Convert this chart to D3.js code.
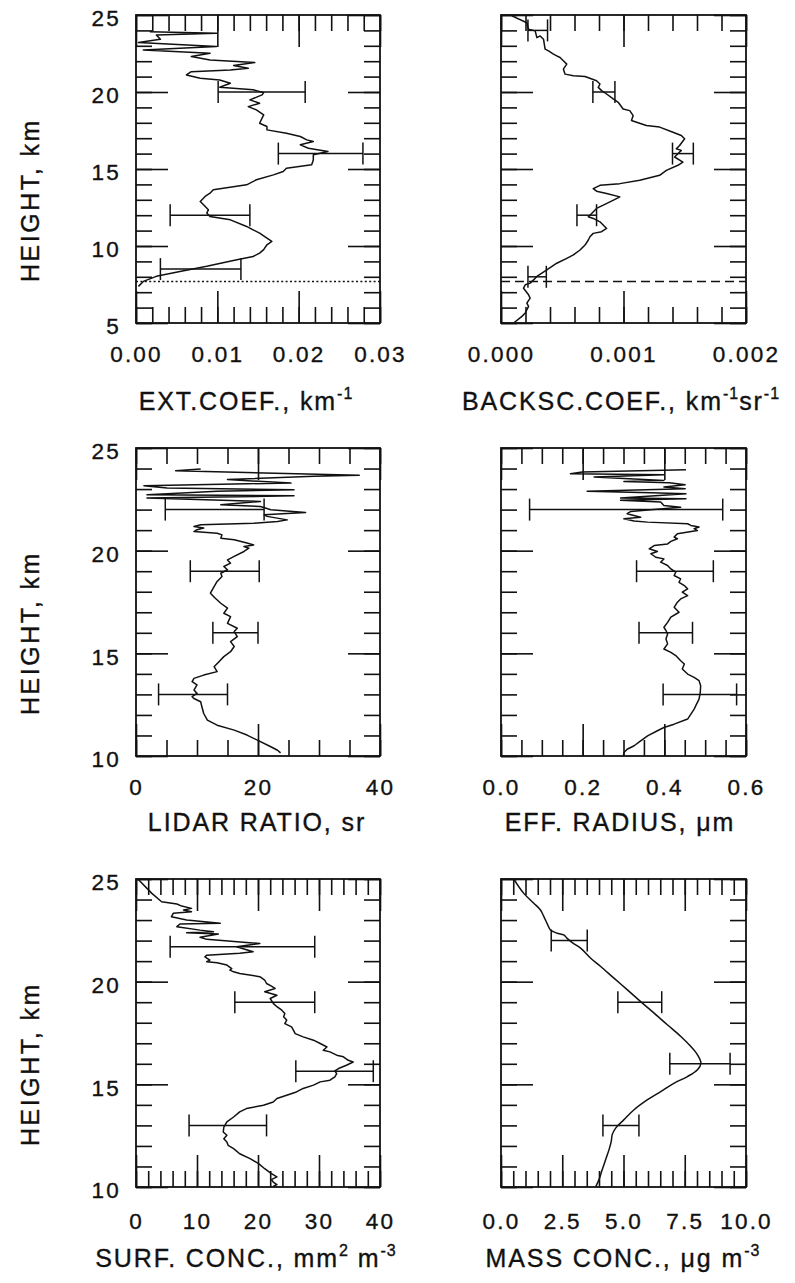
<!DOCTYPE html>
<html>
<head>
<meta charset="utf-8">
<script src="https://cdn.jsdelivr.net/npm/d3@7"></script>
<style>
  body { margin: 0; background: #fff; }
  text { font-family: "Liberation Sans", Arial, Helvetica, sans-serif; fill: #111; stroke: #111; stroke-width: 0.35px; }
</style>
</head>
<body>
<svg id="fig" width="795" height="1283"></svg>
<script>
// ---- data: [height km, value] ----
const extProfile = [
  [23.92, 0.0017], [23.81, 0.0099], [23.70, 0.0025], [23.42, 0.0030], [23.21, 0.0003],
  [22.95, 0.0099], [22.73, 0.0009], [22.51, 0.0091], [22.30, 0.0068], [22.08, 0.0091],
  [21.91, 0.0146], [21.72, 0.0120], [21.54, 0.0138], [21.43, 0.0116], [21.32, 0.0068],
  [21.11, 0.0062], [20.89, 0.0079], [20.78, 0.0103], [20.57, 0.0116], [20.31, 0.0103],
  [20.14, 0.0144], [19.96, 0.0157], [19.81, 0.0155], [19.49, 0.0140], [19.27, 0.0152],
  [19.05, 0.0138], [18.84, 0.0148], [18.51, 0.0157], [18.30, 0.0155], [17.97, 0.0152],
  [17.76, 0.0161], [17.54, 0.0161], [17.32, 0.0185], [17.11, 0.0202], [16.89, 0.0210],
  [16.78, 0.0218], [16.57, 0.0202], [16.35, 0.0212], [16.14, 0.0236], [15.92, 0.0218],
  [15.59, 0.0218], [15.27, 0.0216], [15.05, 0.0185], [14.84, 0.0181], [14.62, 0.0169],
  [14.30, 0.0148], [13.97, 0.0136], [13.65, 0.0095], [13.43, 0.0091], [13.22, 0.0085],
  [12.89, 0.0079], [12.68, 0.0083], [12.35, 0.0089], [12.14, 0.0087], [11.92, 0.0091],
  [11.70, 0.0116], [11.27, 0.0136], [11.05, 0.0144], [10.84, 0.0152], [10.51, 0.0161],
  [10.30, 0.0167], [10.08, 0.0161], [9.76, 0.0157], [9.54, 0.0152], [9.32, 0.0144],
  [9.11, 0.0124], [8.68, 0.0087], [8.35, 0.0054], [8.03, 0.0025], [7.70, 0.0009], [7.38, 0.0003]
]
const extErr = [[20, 0.0101, 0.0208], [16, 0.0175, 0.0279], [12, 0.0042, 0.0140], [8.5, 0.0030, 0.0129]]

const bscProfile = [
  [24.94, 0.000089], [24.50, 0.000211], [24.07, 0.000225], [23.97, 0.000279], [23.53, 0.000293],
  [23.64, 0.000320], [23.43, 0.000347], [22.78, 0.000360], [22.67, 0.000388], [22.46, 0.000428],
  [22.35, 0.000455], [22.24, 0.000482], [22.03, 0.000509], [21.81, 0.000537], [21.49, 0.000509],
  [21.16, 0.000523], [21.06, 0.000591], [21.01, 0.000686], [20.73, 0.000780], [20.52, 0.000808],
  [20.30, 0.000794], [20.09, 0.000821], [19.87, 0.000862], [19.55, 0.000916], [19.33, 0.000957],
  [18.90, 0.000997], [18.79, 0.001051], [18.47, 0.001079], [18.15, 0.001065], [18.00, 0.001119],
  [17.82, 0.001187], [17.72, 0.001295], [17.39, 0.001404], [17.18, 0.001472], [16.96, 0.001499],
  [16.53, 0.001458], [16.31, 0.001431], [16.21, 0.001472], [15.99, 0.001444], [15.78, 0.001417],
  [15.45, 0.001485], [15.24, 0.001444], [14.91, 0.001350], [14.59, 0.001295], [14.27, 0.001133],
  [14.05, 0.000970], [13.94, 0.000808], [13.73, 0.000753], [13.56, 0.000780], [13.41, 0.000862],
  [13.19, 0.000970], [13.08, 0.000943], [12.87, 0.000889], [12.65, 0.000835], [12.44, 0.000780],
  [12.11, 0.000740], [11.90, 0.000713], [11.79, 0.000753], [11.57, 0.000808], [11.25, 0.000848],
  [11.14, 0.000862], [10.93, 0.000821], [10.82, 0.000753], [10.60, 0.000726], [10.39, 0.000713],
  [10.06, 0.000686], [9.74, 0.000645], [9.42, 0.000591], [9.20, 0.000537], [8.88, 0.000455],
  [8.45, 0.000374], [8.02, 0.000293], [7.80, 0.000266], [7.59, 0.000238], [7.48, 0.000198],
  [7.26, 0.000184], [6.83, 0.000225], [6.62, 0.000238], [6.29, 0.000211], [6.08, 0.000225],
  [5.65, 0.000198], [5.43, 0.000171], [5.00, 0.000103]
]
const bscErr = [[24, 0.00022, 0.00038], [20, 0.00075, 0.00093], [16, 0.00140, 0.00157],
  [12, 0.00062, 0.00078], [8, 0.00022, 0.00037]]

const lidarProfile = [
  [23.98, 10.6], [23.89, 6.5], [23.67, 36.6], [23.62, 29.2], [23.46, 15.0], [23.29, 25.4],
  [23.26, 18.2], [23.16, 1.3], [23.05, 5.1], [22.97, 25.9], [22.89, 13.3], [22.72, 1.8],
  [22.67, 25.9], [22.56, 1.8], [22.40, 20.4], [22.24, 13.9], [22.15, 20.4], [21.99, 22.1],
  [21.86, 27.8], [21.75, 21.0], [21.67, 21.5], [21.50, 24.8], [21.42, 23.2], [21.34, 19.3],
  [21.26, 10.6], [21.18, 9.5], [21.10, 11.1], [21.02, 10.0], [20.93, 9.5], [20.85, 13.3],
  [20.77, 14.1], [20.61, 13.9], [20.53, 16.1], [20.37, 18.2], [20.28, 19.3], [20.20, 17.7],
  [20.12, 18.5], [19.96, 17.7], [19.72, 16.1], [19.55, 15.0], [19.39, 15.5], [19.23, 14.4],
  [19.07, 15.0], [18.90, 13.9], [18.74, 14.1], [18.50, 13.3], [18.25, 12.8], [17.93, 12.2],
  [17.68, 13.0], [17.44, 13.9], [17.20, 15.0], [16.95, 14.4], [16.79, 15.5], [16.46, 15.0],
  [16.22, 16.6], [16.06, 16.1], [15.81, 16.6], [15.57, 15.5], [15.33, 16.1], [15.08, 15.5],
  [14.84, 14.4], [14.59, 13.6], [14.35, 12.8], [14.11, 13.3], [13.94, 11.1], [13.78, 9.5],
  [13.62, 9.2], [13.46, 10.0], [13.21, 9.5], [13.05, 10.0], [12.89, 9.2], [12.80, 9.5],
  [12.64, 10.6], [12.40, 10.8], [12.07, 11.1], [11.75, 11.7], [11.50, 13.3], [11.26, 16.1],
  [11.02, 18.2], [10.77, 19.9], [10.45, 22.1], [10.28, 23.2], [10.15, 23.7]
]
const lidarErr = [[22, 4.8, 21.0], [19, 8.9, 20.2], [16, 12.6, 20.0], [13, 3.7, 15.0]]

const radiusProfile = [
  [23.94, 0.453], [23.83, 0.199], [23.75, 0.170], [23.70, 0.399], [23.59, 0.228], [23.42, 0.399],
  [23.37, 0.301], [23.31, 0.412], [23.21, 0.451], [23.10, 0.399], [23.02, 0.451], [22.89, 0.211],
  [22.82, 0.367], [22.77, 0.453], [22.56, 0.293], [22.53, 0.453], [22.45, 0.293], [22.37, 0.391],
  [22.20, 0.399], [22.12, 0.440], [21.91, 0.318], [21.80, 0.309], [21.63, 0.342], [21.55, 0.301],
  [21.44, 0.326], [21.39, 0.359], [21.31, 0.457], [21.23, 0.465], [21.15, 0.485], [21.07, 0.473],
  [20.98, 0.481], [20.82, 0.432], [20.66, 0.424], [20.58, 0.432], [20.45, 0.416], [20.33, 0.408],
  [20.25, 0.375], [20.09, 0.363], [19.96, 0.383], [19.85, 0.367], [19.68, 0.379], [19.60, 0.399],
  [19.44, 0.391], [19.28, 0.408], [19.11, 0.416], [18.95, 0.428], [18.79, 0.424], [18.63, 0.440],
  [18.46, 0.436], [18.30, 0.449], [18.14, 0.457], [17.98, 0.444], [17.81, 0.457], [17.65, 0.440],
  [17.49, 0.432], [17.24, 0.424], [17.00, 0.436], [16.76, 0.416], [16.51, 0.408], [16.27, 0.399],
  [16.11, 0.404], [15.94, 0.408], [15.70, 0.404], [15.46, 0.408], [15.21, 0.399], [15.05, 0.416],
  [14.89, 0.428], [14.64, 0.440], [14.48, 0.449], [14.24, 0.444], [13.99, 0.457], [13.83, 0.473],
  [13.67, 0.485], [13.42, 0.489], [13.10, 0.488], [12.77, 0.485], [12.45, 0.477], [12.28, 0.473],
  [12.04, 0.465], [11.80, 0.457], [11.55, 0.424], [11.39, 0.399], [11.23, 0.383], [10.98, 0.359],
  [10.74, 0.342], [10.50, 0.326], [10.33, 0.309], [10.17, 0.301], [10.04, 0.300]
]
const radiusErr = [[22, 0.070, 0.543], [19, 0.332, 0.520], [16, 0.338, 0.469], [13, 0.397, 0.577]]

const surfProfile = [
  [25.00, 0.3], [24.30, 2.6], [23.89, 4.2], [23.78, 6.7], [23.68, 7.5], [23.57, 9.1],
  [23.49, 7.8], [23.41, 9.1], [23.33, 6.1], [23.16, 5.8], [23.00, 8.3], [22.84, 13.8],
  [22.81, 7.2], [22.68, 6.7], [22.51, 10.5], [22.43, 12.7], [22.38, 8.3], [22.32, 13.5],
  [22.24, 11.9], [22.16, 10.5], [22.06, 11.6], [21.91, 18.1], [21.86, 20.3], [21.70, 16.5],
  [21.46, 19.2], [21.38, 17.0], [21.29, 11.6], [21.21, 11.3], [21.05, 12.1], [20.97, 11.6],
  [20.92, 13.3], [20.81, 14.9], [20.64, 15.7], [20.56, 15.4], [20.48, 16.0], [20.40, 17.0],
  [20.24, 20.3], [20.08, 21.1], [19.91, 21.4], [19.78, 22.2], [19.67, 22.8], [19.51, 21.1],
  [19.34, 23.1], [19.18, 22.0], [18.94, 22.5], [18.78, 23.1], [18.61, 23.9], [18.45, 24.4],
  [18.29, 24.2], [18.13, 24.7], [17.96, 24.4], [17.80, 25.5], [17.64, 25.8], [17.47, 26.1],
  [17.31, 27.4], [17.15, 29.1], [16.99, 30.2], [16.82, 31.3], [16.66, 30.7], [16.58, 31.8],
  [16.42, 32.9], [16.34, 34.0], [16.17, 34.8], [16.09, 35.6], [15.93, 34.5], [15.77, 33.2],
  [15.65, 32.6], [15.52, 32.9], [15.36, 32.6], [15.20, 31.8], [15.12, 30.2], [14.96, 29.1],
  [14.80, 27.4], [14.63, 26.3], [14.47, 24.7], [14.31, 23.1], [14.14, 22.5], [13.98, 20.9],
  [13.82, 18.1], [13.66, 17.0], [13.41, 16.0], [13.17, 14.9], [12.92, 14.4], [12.68, 14.3],
  [12.52, 14.9], [12.35, 14.4], [12.19, 14.9], [12.03, 15.1], [11.87, 16.0], [11.62, 17.0],
  [11.38, 18.7], [11.14, 20.1], [10.89, 21.1], [10.65, 22.2], [10.49, 23.1], [10.36, 22.2],
  [10.24, 22.5], [10.12, 23.1], [10.03, 22.5]
]
const surfErr = [[21.7, 5.6, 29.3], [19, 16.2, 29.3], [15.64, 26.2, 38.9], [13, 8.7, 21.4]]

const massProfile = [
  [25.00, 0.52], [24.30, 0.93], [23.82, 1.34], [23.49, 1.61], [23.17, 1.75], [22.84, 1.88],
  [22.52, 2.02], [22.36, 2.29], [22.28, 2.56], [22.11, 2.70], [21.90, 2.91], [21.63, 3.25],
  [21.14, 3.66], [20.74, 4.07], [20.17, 4.61], [19.60, 5.16], [19.03, 5.70], [18.47, 6.25],
  [17.90, 6.79], [17.33, 7.34], [16.84, 7.75], [16.44, 8.02], [16.03, 8.16], [15.71, 8.02],
  [15.38, 7.61], [15.06, 7.07], [14.65, 6.52], [14.25, 5.98], [13.76, 5.43], [13.28, 5.02],
  [12.87, 4.68], [12.55, 4.54], [12.22, 4.50], [11.82, 4.41], [11.33, 4.27], [10.84, 4.13],
  [10.36, 4.00], [10.00, 3.86]
]
const massErr = [[22, 2.05, 3.52], [19, 4.77, 6.56], [16, 6.89, 9.35], [13, 4.16, 5.63]]

const tropopause = 7.7      // km, dotted / dashed reference line in the top row

// tick labels
const extTicks = [0, 0.01, 0.02, 0.03]
const bscTicks = [0, 0.001, 0.002]
const lidarTicks = [0, 20, 40]
const radiusTicks = [0, 0.2, 0.4, 0.6]
const surfTicks = [0, 10, 20, 30, 40]
const massTicks = [0, 2.5, 5, 7.5, 10]
const heightTicksTop = [5, 10, 15, 20, 25]
const heightTicks = [10, 15, 20, 25]

// ---- layout ----
const svg = d3.select("#fig")
const colX = [136, 501], colW = [244, 245]
const rowY = [15, 448, 879], rowH = 308
const labPad = [23, 23, 26]          // x tick label offset per row
const titleBase = [410, 831, 1267]   // x title baseline per row
const tickFont = { size: "22.5px", ls: "2.2px" }
const titleFont = { size: "25px", ls: "1.9px" }

const panels = [
  { r: 0, c: 0, data: extProfile, err: extErr, xd: [0, 0.03], minor: 0.002, major: 0.01, ticks: extTicks, fmt: ".2f",
    yd: [5, 25], yt: heightTicksTop, ref: "2,2.4", title: [["EXT.COEF., km"], ["-1", 1]], tx: 246 },
  { r: 0, c: 1, data: bscProfile, err: bscErr, xd: [0, 0.002], minor: 0.0002, major: 0.001, ticks: bscTicks, fmt: ".3f",
    yd: [5, 25], ref: "9,5", title: [["BACKSC.COEF., km"], ["-1", 1], ["sr"], ["-1", 1]], tx: 621 },
  { r: 1, c: 0, data: lidarProfile, err: lidarErr, xd: [0, 40], minor: 5, major: 20, ticks: lidarTicks, fmt: "d",
    yd: [10, 25], yt: heightTicks, title: [["LIDAR RATIO, sr"]], tx: 257 },
  { r: 1, c: 1, data: radiusProfile, err: radiusErr, xd: [0, 0.6], minor: 0.05, major: 0.2, ticks: radiusTicks, fmt: ".1f",
    yd: [10, 25], title: [["EFF. RADIUS, \u03bcm"]], tx: 620 },
  { r: 2, c: 0, data: surfProfile, err: surfErr, xd: [0, 40], minor: 2, major: 10, ticks: surfTicks, fmt: "d",
    yd: [10, 25], yt: heightTicks, title: [["SURF. CONC., mm"], ["2", 1], [" m"], ["-3", 1]], tx: 246 },
  { r: 2, c: 1, data: massProfile, err: massErr, xd: [0, 10], minor: 0.5, major: 2.5, ticks: massTicks, fmt: ".1f",
    yd: [10, 25], title: [["MASS CONC., \u03bcg m"], ["-3", 1]], tx: 623, smooth: true }
]

function stepsOf(d, step) {
  const n = Math.round((d[1] - d[0]) / step)
  return d3.range(n + 1).map(i => d[0] + i * step)
}

panels.forEach((p, k) => {
  const w = colW[p.c], h = rowH
  const g = svg.append("g").attr("transform", `translate(${colX[p.c]},${rowY[p.r]})`)
  const x = d3.scaleLinear().domain(p.xd).range([0, w])
  const y = d3.scaleLinear().domain(p.yd).range([h, 0])

  // inward ticks on all four sides, minor and major
  const xs = [[d3.axisBottom, `translate(0,${h})`], [d3.axisTop, "translate(0,0)"]]
  const ys = [[d3.axisLeft, "translate(0,0)"], [d3.axisRight, `translate(${w},0)`]]
  ;[[p.minor, 16], [p.major, 32]].forEach(([st, len]) => {
    xs.forEach(([ax, tr]) => {
      g.append("g").attr("transform", tr)
        .call(ax(x).tickValues(stepsOf(p.xd, st)).tickSize(-len).tickFormat(""))
    })
    ys.forEach(([ax, tr]) => {
      g.append("g").attr("transform", tr)
        .call(ax(y).tickValues(stepsOf(p.yd, len == 16 ? 1 : 5)).tickSize(-len).tickFormat(""))
    })
  })
  g.selectAll(".domain").remove()
  g.selectAll(".tick line").attr("stroke", "#111").attr("stroke-width", 1.6)

  // tick labels
  const xl = g.append("g").attr("transform", `translate(0,${h})`)
    .call(d3.axisBottom(x).tickValues(p.ticks).tickSize(0).tickPadding(labPad[p.r]).tickFormat(d3.format(p.fmt)))
  xl.select(".domain").remove()
  xl.selectAll("text").style("font-size", tickFont.size).style("letter-spacing", tickFont.ls)
    .style("font-family", null).attr("fill", "#111")
  if (p.yt) {
    const yl = g.append("g")
      .call(d3.axisLeft(y).tickValues(p.yt).tickSize(0).tickPadding(15))
    yl.select(".domain").remove()
    yl.selectAll("text").attr("dy", "0.48em").style("font-size", tickFont.size).style("letter-spacing", tickFont.ls)
      .style("font-family", null).attr("fill", "#111")
    svg.append("text")
      .attr("transform", `translate(39,${rowY[p.r] + 185}) rotate(-90)`)
      .attr("text-anchor", "middle").style("font-size", "25px").style("letter-spacing", "2.5px")
      .text("HEIGHT, km")
  }

  // clip for the profile
  const cid = "clip" + k
  g.append("clipPath").attr("id", cid).append("rect").attr("width", w).attr("height", h)

  // reference line (tropopause)
  if (p.ref) {
    g.append("line").attr("x1", 0).attr("x2", w).attr("y1", y(tropopause)).attr("y2", y(tropopause))
      .attr("stroke", "#111").attr("stroke-width", 1.5).attr("stroke-dasharray", p.ref)
  }

  // profile
  const line = d3.line().x(d => x(d[1])).y(d => y(d[0]))
    .curve(p.smooth ? d3.curveCatmullRom : d3.curveLinear)
  g.append("path").datum(p.data).attr("clip-path", `url(#${cid})`)
    .attr("d", line).attr("fill", "none").attr("stroke", "#111").attr("stroke-width", 1.5)
    .attr("stroke-linejoin", "round")

  // error bars
  const eb = g.append("g").attr("stroke", "#111").attr("stroke-width", 1.5)
  p.err.forEach(e => {
    eb.append("line").attr("x1", x(e[1])).attr("x2", x(e[2])).attr("y1", y(e[0])).attr("y2", y(e[0]))
    ;[e[1], e[2]].forEach(v => {
      eb.append("line").attr("x1", x(v)).attr("x2", x(v)).attr("y1", y(e[0]) - 11).attr("y2", y(e[0]) + 11)
    })
  })

  // frame
  g.append("rect").attr("width", w).attr("height", h).attr("fill", "none")
    .attr("stroke", "#111").attr("stroke-width", 1.8)

  // x title with superscripts
  const t = svg.append("text").attr("x", p.tx).attr("y", titleBase[p.r])
    .attr("text-anchor", "middle").style("font-size", titleFont.size).style("letter-spacing", titleFont.ls)
  let up = false
  p.title.forEach(([s, sup]) => {
    const ts = t.append("tspan").text(s)
    if (sup && !up) { ts.attr("dy", -11).style("font-size", "16px").style("letter-spacing", "1px"); up = true }
    else if (!sup && up) { ts.attr("dy", 11); up = false }
    else if (sup) ts.style("font-size", "16px")
  })
})
</script>
</body>
</html>
